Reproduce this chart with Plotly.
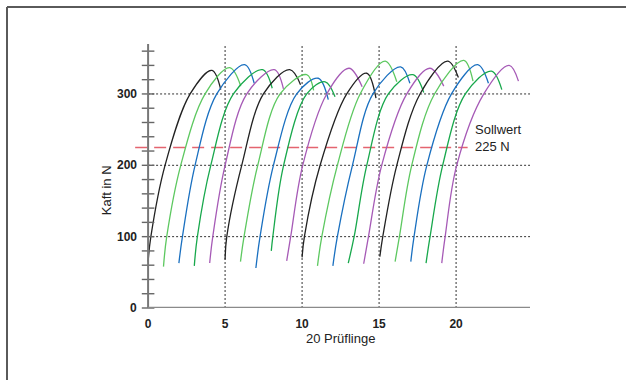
import plotly.graph_objects as go

# ---- data ----
# per specimen: start (x, y), x where 100 N / 200 N / 300 N are crossed, peak (x, y), end (x, y)
start_x = [0.0, 1.0, 2.0, 3.0, 4.0, 5.0, 6.0, 7.0, 8.0, 9.0,
           10.0, 11.0, 12.0, 13.0, 14.0, 15.05, 16.04, 17.06, 18.05, 19.07]
start_y = [65, 58, 63, 59, 63, 68, 65, 56, 80, 66,
           71, 59, 59, 63, 62, 72, 65, 65, 63, 63]
x_at_100 = [0.18, 1.21, 2.23, 3.2, 4.2, 5.11, 6.23, 7.27, 8.1, 9.26,
            10.15, 11.28, 12.29, 13.38, 14.31, 15.24, 16.32, 17.27, 18.31, 19.29]
x_at_200 = [1.1, 2.12, 3.05, 4.07, 5.0, 6.08, 7.12, 8.14, 8.8, 10.04,
            11.17, 12.29, 13.27, 14.2, 15.17, 16.15, 17.12, 18.1, 19.13, 20.04]
x_at_300 = [2.73, 3.7, 4.46, 5.54, 6.41, 7.49, 8.57, 9.65, 10.3, 11.6,
            12.9, 13.77, 14.6, 15.6, 16.8, 17.66, 18.6, 19.7, 20.6, 21.8]
peak_x = [4.15, 5.3, 6.27, 7.43, 8.2, 9.2, 10.3, 11.05, 11.5, 13.05,
          14.2, 15.4, 16.4, 17.2, 18.3, 19.45, 20.5, 21.4, 22.3, 23.45]
peak_y = [333, 337, 341, 334, 334, 334, 327, 322, 317, 336,
          329, 346, 338, 327, 336, 346, 347, 341, 332, 340]
end_x = [4.72, 6.02, 6.89, 8.06, 8.79, 9.9, 10.75, 11.7, 12.14, 13.9,
         14.8, 16.15, 17.0, 17.9, 19.2, 20.15, 21.1, 22.1, 22.97, 24.05]
end_y = [306, 311, 315, 308, 307, 313, 305, 292, 296, 310,
         294, 317, 315, 302, 311, 323, 318, 315, 306, 318]

setpoint = 225
setpoint_span = [-0.84, 20.75]
x_ticks = [0, 5, 10, 15, 20]
y_ticks = [0, 100, 200, 300]
y_minor = list(range(0, 361, 20))
x_grid = [5, 10, 15, 20]
y_grid = [100, 200, 300]
x_range = [-0.85, 24.8]
y_range = [0, 370]
y_axis_top = 370
x_axis_end = 24.8

palette = ["#222222", "#5dc860", "#1a70c0", "#18a84c", "#a65ab6"]
FONT = "Liberation Sans, Arial"

fig = go.Figure()

# gridlines (dotted)
for gx in x_grid:
    fig.add_shape(type="line", xref="x", yref="y", x0=gx, x1=gx, y0=0, y1=y_axis_top,
                  line=dict(color="#333333", width=1, dash="2px,2px"), layer="below")
for gy in y_grid:
    fig.add_shape(type="line", xref="x", yref="y", x0=0, x1=x_axis_end, y0=gy, y1=gy,
                  line=dict(color="#333333", width=1, dash="2px,2px"), layer="below")

# set-point line
fig.add_shape(type="line", xref="x", yref="y", x0=setpoint_span[0], x1=setpoint_span[1],
              y0=setpoint, y1=setpoint,
              line=dict(color="#e4646f", width=1.4, dash="12px,7px"), layer="below")

# curves
for i in range(len(start_x)):
    xs = [start_x[i], x_at_100[i], x_at_200[i], x_at_300[i], peak_x[i], end_x[i]]
    ys = [start_y[i], 100, 200, 300, peak_y[i], end_y[i]]
    fig.add_trace(go.Scatter(x=xs, y=ys, mode="lines",
                             line=dict(color=palette[i % 5], width=1.3, shape="spline", smoothing=1.0),
                             hoverinfo="skip", showlegend=False))

# axis lines
fig.add_shape(type="line", xref="x", yref="y", x0=0, x1=0, y0=0, y1=y_axis_top,
              line=dict(color="#777777", width=2))
fig.add_shape(type="line", xref="x", yref="y", x0=0, x1=x_axis_end, y0=0, y1=0,
              line=dict(color="#8a8a8a", width=2.5))

# crossing y ticks
fig.add_trace(go.Scatter(x=[0] * len(y_minor), y=y_minor, mode="markers",
                         marker=dict(symbol="line-ew", size=9, color="#666666",
                                     line=dict(color="#666666", width=1.4)),
                         cliponaxis=False, hoverinfo="skip", showlegend=False))

# y tick labels
for v in y_ticks:
    fig.add_annotation(x=0, y=v, xref="x", yref="y", text=str(v), showarrow=False,
                       xanchor="right", yanchor="middle", xshift=-9,
                       font=dict(family=FONT, size=12, color="#222222", weight="bold"))

# texts
fig.add_annotation(x=21.1, y=setpoint, xref="x", yref="y", text="Sollwert<br>225 N",
                   showarrow=False, xanchor="left", yanchor="middle", align="left", yshift=9,
                   font=dict(family=FONT, size=13, color="#222222"))
fig.add_annotation(x=(106 - 135) / 395, y=165, xref="paper", yref="y", text="Kaft in N",
                   showarrow=False, textangle=-90, xanchor="center", yanchor="middle",
                   font=dict(family=FONT, size=13, color="#222222"))
fig.add_annotation(x=12.5, y=0, xref="x", yref="y", text="20 Prüflinge", showarrow=False,
                   xanchor="center", yanchor="middle", yshift=-30,
                   font=dict(family=FONT, size=13, color="#222222"))

# outer frame (top and left edge visible)
L, T, W, H = 135, 44, 395, 264
fx = (7 - L) / W
fy = 1 + (T - 7) / H
fig.add_shape(type="line", xref="paper", yref="paper", x0=fx, x1=(640 - L) / W, y0=fy, y1=fy,
              line=dict(color="#5a5a5a", width=2))
fig.add_shape(type="line", xref="paper", yref="paper", x0=fx, x1=fx, y0=fy, y1=-(400 - T - H) / H,
              line=dict(color="#5a5a5a", width=2))

fig.update_layout(
    width=626, height=380,
    margin=dict(l=L, r=626 - L - W, t=T, b=380 - T - H),
    paper_bgcolor="white", plot_bgcolor="white",
    xaxis=dict(range=x_range, showgrid=False, zeroline=False, showline=False,
               tickvals=x_ticks, ticks="outside", ticklen=5, tickcolor="rgba(0,0,0,0)",
               tickfont=dict(family=FONT, size=12, color="#222222", weight="bold")),
    yaxis=dict(range=y_range, showgrid=False, zeroline=False, showline=False,
               showticklabels=False, ticks=""),
    font=dict(family=FONT),
)

fig.write_html("out.html", config={"displayModeBar": False},
               post_script="document.body.style.margin='0';document.body.style.overflow='hidden';")
